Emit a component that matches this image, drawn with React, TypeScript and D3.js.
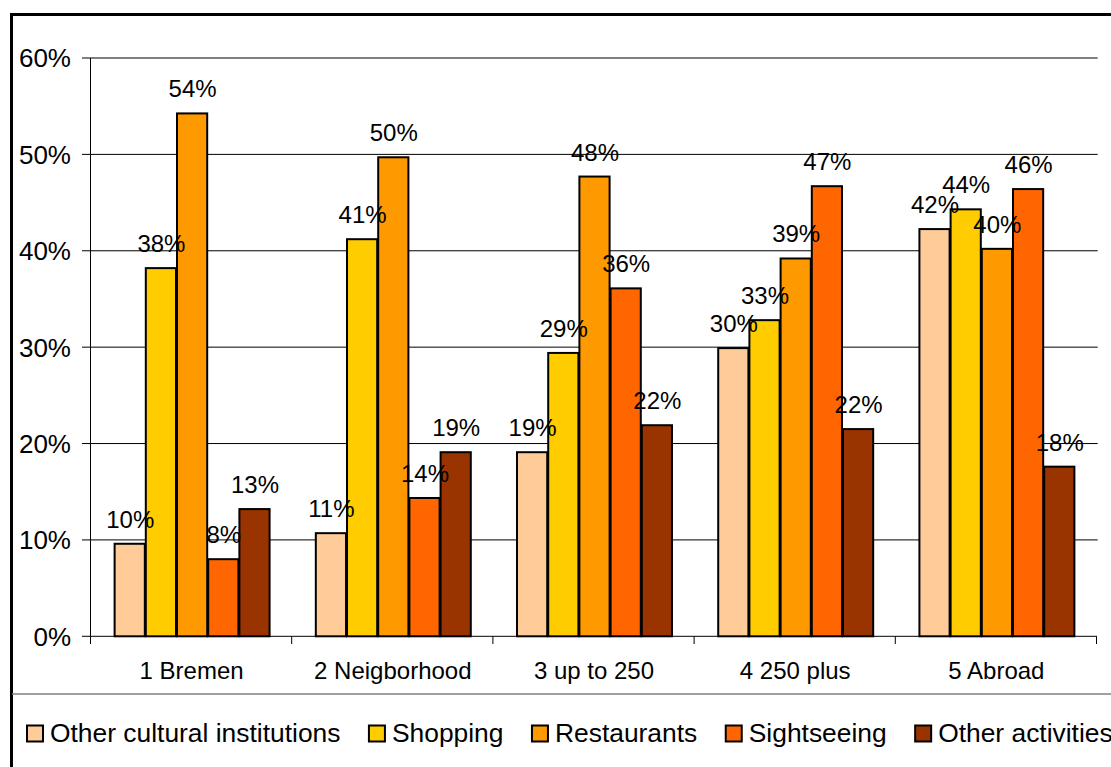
import React from "react";
import * as d3 from "d3";

const categories = ["1 Bremen", "2 Neigborhood", "3 up to 250", "4 250 plus", "5 Abroad"];
const seriesNames = ["Other cultural institutions", "Shopping", "Restaurants", "Sightseeing", "Other activities"];
const seriesColors = ["#FFCC99", "#FFCC00", "#FF9900", "#FF6600", "#993300"];
// values per series, in category order (fractions)
const otherCultural = [0.096, 0.107, 0.191, 0.299, 0.4225];
const shopping = [0.382, 0.412, 0.294, 0.328, 0.443];
const restaurants = [0.5425, 0.497, 0.477, 0.392, 0.402];
const sightseeing = [0.080, 0.1435, 0.361, 0.467, 0.464];
const otherActivities = [0.132, 0.191, 0.219, 0.215, 0.176];
const yTicks = [0, 0.1, 0.2, 0.3, 0.4, 0.5, 0.6];

const seriesValues = [otherCultural, shopping, restaurants, sightseeing, otherActivities];

const FONT = "'Liberation Sans', Arial, sans-serif";
const LEGEND_SIZE = 26.4;

function measure(text: string, size: number): number {
  const c = document.createElement("canvas");
  const ctx = c.getContext("2d");
  if (!ctx) return text.length * size * 0.5;
  ctx.font = `${size}px 'Liberation Sans', Arial, sans-serif`;
  return ctx.measureText(text).width;
}

export default function App() {
  const W = 1111;
  const H = 767;
  const left = 91;
  const right = 1097;
  const y = d3.scaleLinear().domain([0, 0.6]).range([636.3, 58]);
  const x0 = d3.scaleBand<string>().domain(categories).range([left, right]).paddingInner(0).paddingOuter(0);
  const x1 = d3
    .scaleBand<string>()
    .domain(seriesNames)
    .range([0, x0.bandwidth()])
    .paddingInner(0)
    .paddingOuter(0.725);
  const fmt = d3.format(".0%");

  // legend layout
  const legendItems: { name: string; color: string; x: number }[] = [];
  let lx = 27;
  seriesNames.forEach((n, i) => {
    legendItems.push({ name: n, color: seriesColors[i], x: lx });
    lx += 23 + measure(n, LEGEND_SIZE) + 28.5;
  });

  const boundaries = categories.map((c) => x0(c) as number).concat([right]);

  return (
    <svg
      width={W}
      height={H}
      style={{ position: "absolute", left: 0, top: 0, background: "#fff" }}
      fontFamily={FONT}
    >
      <rect x={0} y={0} width={W} height={H} fill="#fff" />
      {/* outer border */}
      <rect x={11.5} y={14.5} width={1110} height={800} fill="none" stroke="#000" strokeWidth={3} />
      {/* gridlines */}
      {yTicks.map((t) => (
        <g key={t}>
          {t > 0 && <line x1={left} x2={right + 0.7} y1={y(t)} y2={y(t)} stroke="#000" strokeWidth={1} />}
          <line x1={82} x2={left} y1={y(t)} y2={y(t)} stroke="#000" strokeWidth={1} />
          <text x={71} y={y(t)} dy="0.36em" textAnchor="end" fontSize={26} fill="#000">
            {fmt(t)}
          </text>
        </g>
      ))}
      {/* y axis */}
      <line x1={left - 0.5} x2={left - 0.5} y1={58} y2={644} stroke="#000" strokeWidth={1} />
      {/* x axis */}
      <line x1={left} x2={right} y1={y(0)} y2={y(0)} stroke="#000" strokeWidth={1} />
      {boundaries.map((b, i) => (
        <line key={i} x1={b - 0.5} x2={b - 0.5} y1={y(0)} y2={644} stroke="#000" strokeWidth={1} />
      ))}
      {/* bars */}
      {categories.map((c, ci) => (
        <g key={c} transform={`translate(${x0(c)},0)`}>
          {seriesNames.map((s, si) => {
            const v = seriesValues[si][ci];
            return (
              <rect
                key={s}
                x={(x1(s) as number) + 1}
                y={y(v)}
                width={x1.bandwidth() - 1}
                height={y(0) - y(v)}
                fill={seriesColors[si]}
                stroke="#000"
                strokeWidth={2}
              />
            );
          })}
        </g>
      ))}
      {/* data labels */}
      {categories.map((c, ci) => (
        <g key={c + "l"} transform={`translate(${x0(c)},0)`}>
          {seriesNames.map((s, si) => {
            const v = seriesValues[si][ci];
            return (
              <text
                key={s}
                x={(x1(s) as number) + x1.bandwidth() / 2 + 1}
                y={y(v) - 16}
                textAnchor="middle"
                fontSize={24}
                fill="#000"
              >
                {fmt(v)}
              </text>
            );
          })}
        </g>
      ))}
      {/* category labels */}
      {categories.map((c) => (
        <text
          key={c + "c"}
          x={(x0(c) as number) + x0.bandwidth() / 2}
          y={679}
          textAnchor="middle"
          fontSize={24}
          fill="#000"
        >
          {c}
        </text>
      ))}
      {/* legend separator */}
      <line x1={12} x2={W} y1={694} y2={694} stroke="#808080" strokeWidth={1.5} />
      {/* legend */}
      {legendItems.map((it) => (
        <g key={it.name}>
          <rect x={it.x} y={725.5} width={16} height={16} fill={it.color} stroke="#000" strokeWidth={2} />
          <text x={it.x + 23} y={742} fontSize={LEGEND_SIZE} fill="#000">
            {it.name}
          </text>
        </g>
      ))}
    </svg>
  );
}
